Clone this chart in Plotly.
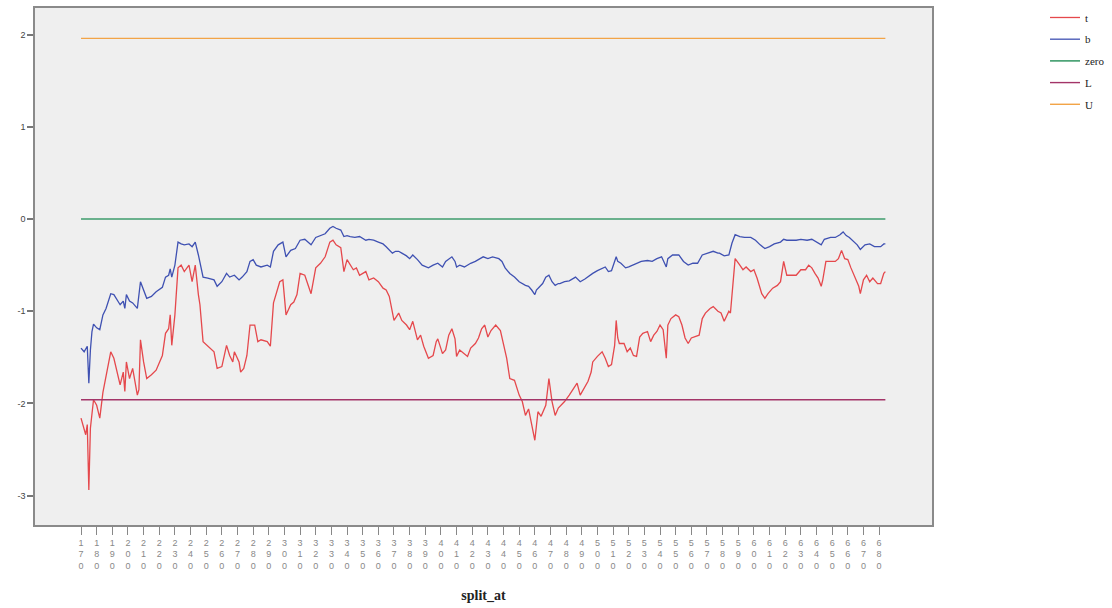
import plotly.graph_objects as go

# ---- data ----
t_split = [170, 173, 174, 175, 176, 178, 180, 182, 184, 186, 189, 191, 193, 195, 197, 198, 199, 201, 203, 206,
           207, 208, 210, 212, 215, 218, 222, 224, 226, 227, 228, 230, 232, 234, 236, 239, 241, 243, 245, 246,
           248, 251, 255, 257, 260, 263, 265, 267, 268, 271, 272, 274, 276, 278, 281, 283, 285, 289, 291, 293,
           295, 297, 299, 301, 304, 306, 308, 310, 313, 315, 317, 320, 323, 326, 329, 331, 333, 336, 338, 340,
           342, 344, 346, 348, 352, 354, 357, 360, 363, 365, 367, 369, 370, 373, 375, 378, 380, 382, 385, 387,
           389, 392, 395, 397, 398, 401, 403, 405, 407, 409, 410, 412, 414, 417, 419, 422, 424, 426, 428, 430,
           432, 435, 438, 440, 442, 444, 447, 450, 452, 454, 456, 458, 460, 462, 464, 467, 469, 471, 473, 475,
           477, 479, 482, 485, 487, 489, 492, 494, 496, 497, 500, 503, 505, 507, 509, 511, 512, 513, 514, 517,
           519, 521, 523, 525, 527, 529, 532, 534, 536, 538, 540, 542, 544, 545, 547, 550, 552, 554, 556, 558,
           560, 562, 565, 567, 569, 572, 574, 577, 579, 581, 584, 585, 587, 588, 591, 593, 595, 598, 600, 602,
           605, 607, 609, 612, 615, 617, 619, 621, 624, 627, 630, 633, 635, 637, 639, 641, 643, 644, 646, 649,
           652, 654, 656, 658, 660, 662, 665, 667, 668, 670, 672, 674, 676, 679, 681, 683, 684]
t_values = [-2.16, -2.34, -2.23, -2.94, -2.27, -1.96, -2.02, -2.16, -1.88, -1.69, -1.44, -1.51, -1.66, -1.80, -1.66, -1.87, -1.55, -1.73, -1.62, -1.91,
            -1.85, -1.31, -1.55, -1.73, -1.69, -1.64, -1.48, -1.24, -1.19, -1.04, -1.37, -1.04, -0.53, -0.50, -0.57, -0.50, -0.68, -0.50, -0.82, -0.93,
            -1.33, -1.38, -1.44, -1.62, -1.60, -1.37, -1.48, -1.55, -1.44, -1.55, -1.66, -1.62, -1.48, -1.15, -1.15, -1.33, -1.31, -1.33, -1.38, -0.91,
            -0.79, -0.68, -0.66, -1.04, -0.93, -0.90, -0.82, -0.59, -0.61, -0.72, -0.81, -0.53, -0.48, -0.41, -0.25, -0.23, -0.28, -0.31, -0.57, -0.44,
            -0.50, -0.55, -0.53, -0.61, -0.57, -0.66, -0.64, -0.68, -0.75, -0.77, -0.84, -1.04, -1.10, -1.02, -1.10, -1.15, -1.20, -1.11, -1.31, -1.26,
            -1.38, -1.51, -1.48, -1.33, -1.30, -1.46, -1.42, -1.26, -1.19, -1.30, -1.49, -1.42, -1.45, -1.49, -1.40, -1.35, -1.29, -1.19, -1.15, -1.28,
            -1.21, -1.15, -1.21, -1.37, -1.51, -1.73, -1.75, -1.91, -1.98, -2.13, -2.06, -2.23, -2.40, -2.09, -2.14, -2.02, -1.73, -1.98, -2.13, -2.05,
            -2.02, -1.98, -1.91, -1.84, -1.78, -1.91, -1.82, -1.76, -1.66, -1.55, -1.49, -1.44, -1.51, -1.60, -1.58, -1.37, -1.10, -1.29, -1.35, -1.35,
            -1.44, -1.40, -1.48, -1.49, -1.28, -1.24, -1.22, -1.33, -1.26, -1.22, -1.15, -1.20, -1.51, -1.15, -1.08, -1.04, -1.06, -1.15, -1.29, -1.35,
            -1.29, -1.28, -1.26, -1.08, -1.02, -0.97, -0.95, -1.00, -1.02, -1.11, -1.00, -1.02, -0.57, -0.43, -0.50, -0.55, -0.52, -0.57, -0.55, -0.64,
            -0.81, -0.86, -0.81, -0.75, -0.72, -0.68, -0.46, -0.61, -0.61, -0.61, -0.55, -0.55, -0.50, -0.53, -0.59, -0.64, -0.73, -0.66, -0.46, -0.46,
            -0.46, -0.43, -0.34, -0.43, -0.44, -0.53, -0.64, -0.73, -0.81, -0.66, -0.61, -0.68, -0.64, -0.70, -0.70, -0.59, -0.57]

b_split = [170, 172, 174, 175, 176, 177, 178, 180, 182, 184, 186, 189, 191, 193, 195, 197, 198, 199, 201, 203,
           206, 208, 210, 212, 215, 218, 222, 224, 226, 227, 228, 230, 232, 234, 236, 239, 241, 243, 245, 246,
           248, 251, 255, 257, 260, 263, 265, 268, 271, 273, 276, 278, 280, 282, 285, 289, 291, 293, 296, 299,
           301, 304, 307, 310, 313, 315, 317, 320, 323, 326, 329, 331, 333, 336, 338, 340, 342, 345, 348, 352,
           354, 357, 360, 363, 365, 367, 369, 371, 373, 375, 378, 380, 382, 385, 388, 392, 395, 398, 401, 403,
           405, 407, 409, 410, 412, 415, 419, 422, 425, 427, 430, 433, 437, 439, 441, 444, 447, 450, 454, 456,
           458, 460, 461, 463, 465, 467, 469, 471, 473, 475, 476, 479, 482, 486, 489, 492, 495, 497, 500, 503,
           505, 507, 509, 512, 513, 515, 518, 520, 523, 525, 528, 532, 535, 538, 541, 544, 545, 548, 552, 555,
           558, 561, 564, 567, 571, 574, 577, 578, 581, 584, 586, 588, 591, 594, 598, 601, 604, 607, 610, 613,
           617, 619, 621, 624, 627, 630, 634, 637, 640, 643, 645, 649, 652, 655, 657, 659, 661, 663, 666, 668,
           671, 674, 677, 681, 683, 684]
b_values = [-1.40, -1.44, -1.38, -1.78, -1.42, -1.22, -1.14, -1.18, -1.20, -1.04, -0.97, -0.81, -0.82, -0.88, -0.93, -0.89, -0.97, -0.82, -0.89, -0.91,
            -0.97, -0.68, -0.77, -0.86, -0.84, -0.79, -0.74, -0.63, -0.61, -0.54, -0.63, -0.50, -0.25, -0.27, -0.28, -0.27, -0.30, -0.25, -0.39, -0.46,
            -0.63, -0.64, -0.66, -0.73, -0.68, -0.59, -0.63, -0.61, -0.66, -0.63, -0.57, -0.46, -0.44, -0.50, -0.52, -0.50, -0.52, -0.35, -0.28, -0.25,
            -0.41, -0.34, -0.32, -0.23, -0.22, -0.25, -0.28, -0.20, -0.18, -0.16, -0.10, -0.08, -0.10, -0.12, -0.19, -0.18, -0.19, -0.20, -0.19, -0.23,
            -0.22, -0.23, -0.25, -0.27, -0.30, -0.34, -0.37, -0.35, -0.35, -0.37, -0.40, -0.43, -0.39, -0.44, -0.50, -0.53, -0.50, -0.48, -0.52, -0.46,
            -0.43, -0.41, -0.46, -0.52, -0.50, -0.52, -0.48, -0.46, -0.43, -0.41, -0.43, -0.41, -0.43, -0.46, -0.53, -0.59, -0.63, -0.68, -0.72, -0.73,
            -0.77, -0.82, -0.77, -0.73, -0.70, -0.63, -0.61, -0.68, -0.72, -0.70, -0.70, -0.68, -0.67, -0.63, -0.68, -0.65, -0.61, -0.59, -0.56, -0.54,
            -0.52, -0.57, -0.56, -0.41, -0.46, -0.48, -0.53, -0.52, -0.50, -0.48, -0.46, -0.45, -0.46, -0.43, -0.41, -0.52, -0.43, -0.39, -0.39, -0.46,
            -0.50, -0.48, -0.48, -0.39, -0.37, -0.35, -0.37, -0.37, -0.40, -0.39, -0.26, -0.17, -0.19, -0.20, -0.20, -0.23, -0.28, -0.32, -0.30, -0.27,
            -0.25, -0.22, -0.23, -0.23, -0.23, -0.22, -0.23, -0.22, -0.25, -0.28, -0.22, -0.20, -0.20, -0.17, -0.14, -0.18, -0.20, -0.23, -0.28, -0.33,
            -0.28, -0.27, -0.30, -0.30, -0.27, -0.27]

ref_split = [170, 684]
zero_values = [0, 0]
L_values = [-1.96, -1.96]
U_values = [1.96, 1.96]

x_tick_values = list(range(170, 681, 10))
x_tick_labels = ["<br>".join(str(v)) for v in x_tick_values]
y_tick_values = [-3, -2, -1, 0, 1, 2]
y_tick_labels = ["-3", "-2", "-1", "0", "1", "2"]

colors = {"t": "#e5484c", "b": "#3f51b2", "zero": "#3e9c6c", "L": "#a33468", "U": "#f2a447"}

fig = go.Figure()
lw = 1.3
series = [
    ("t", t_split, t_values, lw),
    ("b", b_split, b_values, lw),
    ("zero", ref_split, zero_values, 1.6),
    ("L", ref_split, L_values, 1.4),
    ("U", ref_split, U_values, 1.4),
]
for name, xs, ys, w in series:
    fig.add_trace(go.Scatter(x=xs, y=ys, mode="lines", name=name, legendgroup=name,
                             line=dict(color=colors[name], width=w)))

fig.update_layout(
    width=1112, height=608,
    margin=dict(l=35, r=180, t=8, b=83, autoexpand=False),
    paper_bgcolor="white",
    plot_bgcolor="#efefef",
    font=dict(family="Liberation Serif", color="#333333"),
    showlegend=True,
    legend=dict(x=1.126, y=1.0097, xanchor="left", yanchor="top",
                font=dict(size=11, family="Liberation Serif", color="#222222"),
                bgcolor="rgba(0,0,0,0)", tracegroupgap=2.7, itemwidth=30),
)
fig.update_xaxes(
    range=[140.6, 713.8],
    tickmode="array", tickvals=x_tick_values, ticktext=x_tick_labels,
    tickangle=0, ticks="outside", ticklen=8, tickcolor="#888888", tickwidth=1,
    tickfont=dict(size=9, color="#888888", family="Liberation Sans"),
    showline=True, linecolor="#8a8a8a", linewidth=1.5, mirror=True,
    showgrid=False, zeroline=False, automargin=False,
    title=dict(text="<b>split_at</b>", font=dict(size=14, family="Liberation Serif", color="#222222"),
               standoff=20),
)
fig.update_yaxes(
    range=[-3.319, 2.289],
    tickmode="array", tickvals=y_tick_values, ticktext=y_tick_labels,
    ticks="outside", ticklen=6, tickcolor="#777777", tickwidth=1.5,
    tickfont=dict(size=9, color="#444444", family="Liberation Sans"),
    showline=True, linecolor="#8a8a8a", linewidth=1.5, mirror=True,
    showgrid=False, zeroline=False, automargin=False,
)

fig.write_html("out.html", config={"displayModeBar": False},
               post_script="document.body.style.margin='0';")
